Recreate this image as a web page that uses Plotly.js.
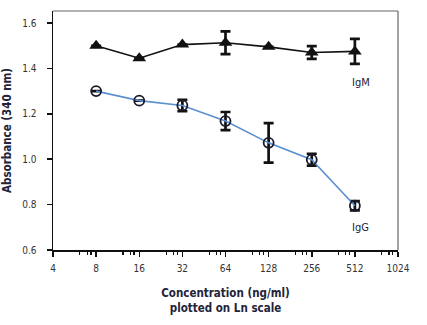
<!DOCTYPE html>
<html><head><meta charset="utf-8">
<script src="https://cdn.plot.ly/plotly-3.0.1.min.js"></script>
<style>body{margin:0;background:#fff}#c{width:427px;height:325px}</style>
</head><body><div id="c"></div>
<script>
const conc = [8, 16, 32, 64, 128, 256, 512];
const igm = [1.50, 1.445, 1.505, 1.513, 1.495, 1.47, 1.475];
const igmErr = [0, 0, 0, 0.05, 0, 0.028, 0.055];
const igg = [1.30, 1.258, 1.237, 1.168, 1.072, 0.998, 0.795];
const iggErr = [0, 0, 0.025, 0.04, 0.087, 0.026, 0.02];
const xTicks = [4, 8, 16, 32, 64, 128, 256, 512, 1024];
const xTickText = ['4', '8', '16', '32', '64', '128', '256', '512', '1024'];
const minorFactors = [1.54, 1.73, 1.84];
const yTicks = [0.6, 0.8, 1.0, 1.2, 1.4, 1.6];
const yTickText = ['0.6', '0.8', '1.0', '1.2', '1.4', '1.6'];

const minorVals = [];
xTicks.slice(0, -1).forEach(b => minorFactors.forEach(f => minorVals.push(b * f)));

const FONT = '"Liberation Sans Narrow", "DejaVu Sans Condensed", "Roboto Condensed", Arial, sans-serif';
const INK = '#23233a';

const traces = [
  {x: conc, y: igm, type: 'scatter', mode: 'lines+markers', name: 'IgM',
   line: {color: '#111', width: 1.6},
   marker: {symbol: 'triangle-up', size: 12, color: '#111'},
   error_y: {type: 'data', array: igmErr, visible: true, color: '#111', thickness: 2.7, width: 5}},
  {x: conc, y: igg, type: 'scatter', mode: 'lines+markers', name: 'IgG',
   line: {color: '#5b8fd0', width: 1.6},
   marker: {symbol: 'circle-open', size: 10, color: '#1a1a2a', line: {width: 1.8}},
   error_y: {type: 'data', array: iggErr, visible: true, color: '#111', thickness: 2.7, width: 5}}
];

const layout = {
  width: 427, height: 325,
  margin: {l: 53, r: 29, t: 11, b: 75},
  paper_bgcolor: '#fff', plot_bgcolor: '#fff',
  showlegend: false,
  font: {family: FONT, color: INK, size: 10},
  xaxis: {
    type: 'log', range: [Math.log10(4), Math.log10(1024)],
    tickmode: 'array', tickvals: xTicks, ticktext: xTickText,
    ticks: 'outside', ticklen: 5, tickwidth: 1.5, tickcolor: '#111',
    showline: true, linecolor: '#111', linewidth: 1.5,
    showgrid: false, zeroline: false,
    tickfont: {size: 10, color: '#333'},
    ticklabelstandoff: 3,
    minor: {tickmode: 'array', tickvals: minorVals, ticks: 'outside', ticklen: 3, tickwidth: 1.2, tickcolor: '#111', showgrid: false},
    title: {text: '<b>Concentration (ng/ml)</b><br><b>plotted on Ln scale</b>', font: {size: 11.5, color: INK}, standoff: 16}
  },
  yaxis: {
    range: [0.6, 1.653],
    tickmode: 'array', tickvals: yTicks, ticktext: yTickText,
    ticks: 'outside', ticklen: 5, tickwidth: 1.5, tickcolor: '#111',
    showline: true, linecolor: '#111', linewidth: 1.5,
    showgrid: false, zeroline: false,
    tickfont: {size: 10, color: '#333'},
    ticklabelstandoff: 8,
    title: {text: '<b>Absorbance (340 nm)</b>', font: {size: 11.5, color: INK}, standoff: 8}
  },
  shapes: [
    {type: 'line', xref: 'paper', yref: 'paper', x0: 0, x1: 1, y0: 1, y1: 1, line: {color: '#666', width: 1.2}},
    {type: 'line', xref: 'paper', yref: 'paper', x0: 1, x1: 1, y0: 0, y1: 1, line: {color: '#666', width: 1.2}}
  ],
  annotations: [
    {x: Math.log10(563), y: 1.34, text: 'IgM', showarrow: false, font: {size: 11, color: INK}},
    {x: Math.log10(563), y: 0.70, text: 'IgG', showarrow: false, font: {size: 11, color: INK}}
  ]
};
Plotly.newPlot('c', traces, layout, {displayModeBar: false, staticPlot: true});
</script></body></html>
